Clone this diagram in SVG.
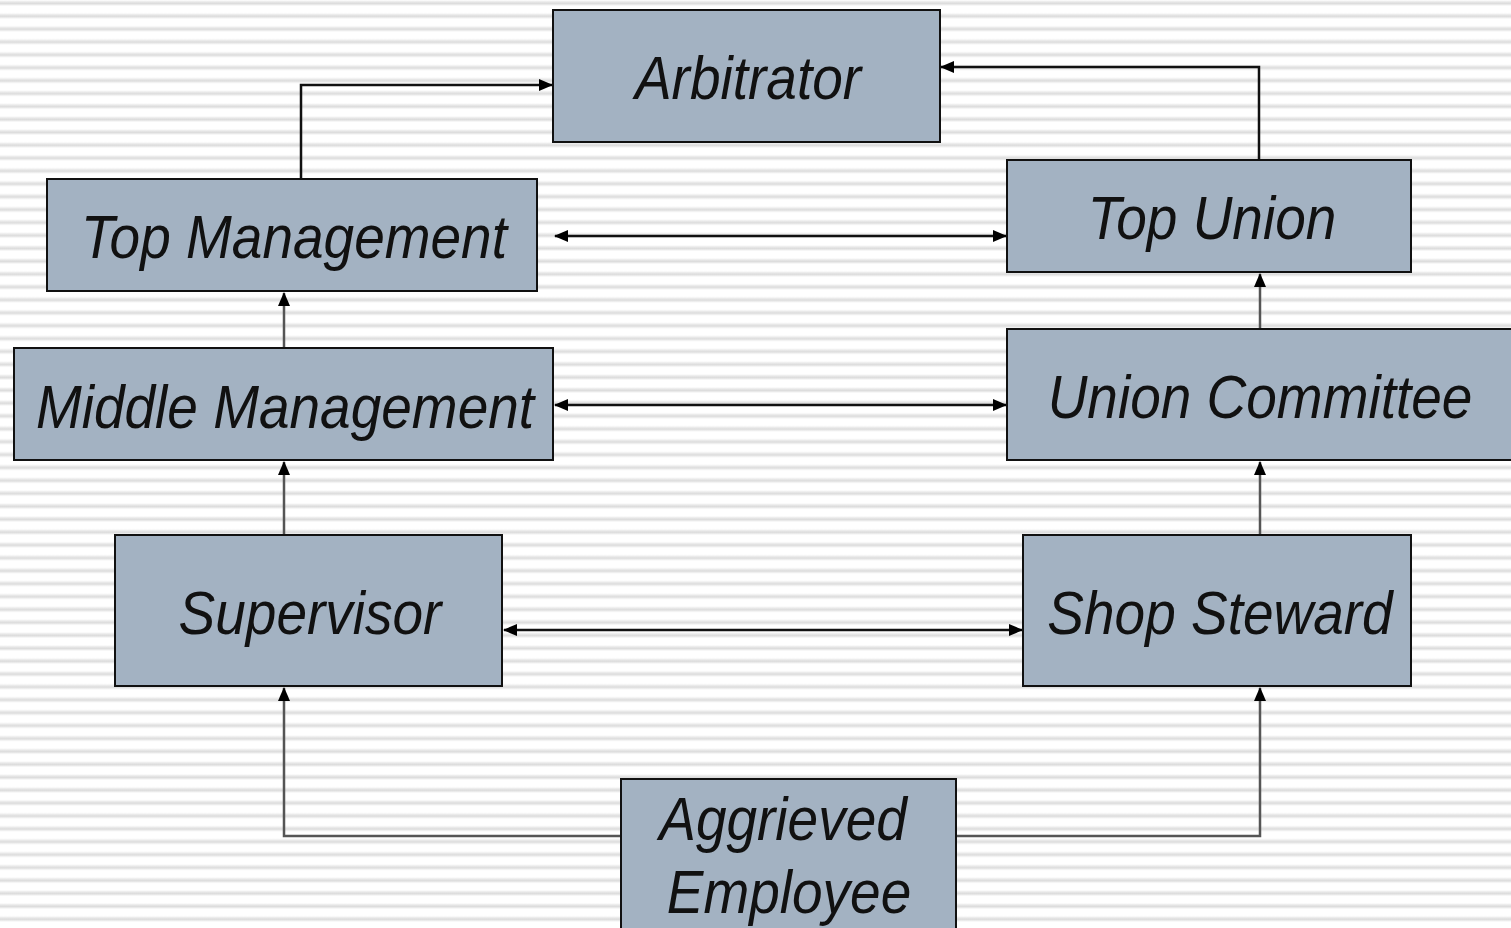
<svg xmlns="http://www.w3.org/2000/svg" width="1511" height="928" viewBox="0 0 1511 928">
<defs>
<linearGradient id="sg" x1="0" y1="0" x2="0" y2="1">
<stop offset="0" stop-color="#ffffff"/>
<stop offset="0.35" stop-color="#e6e6e6"/>
<stop offset="0.6" stop-color="#dcdcdc"/>
<stop offset="1" stop-color="#ffffff"/>
</linearGradient>
<pattern id="stripes" x="0" y="0" width="20" height="12.9" patternUnits="userSpaceOnUse">
<rect width="20" height="12.9" fill="#ffffff"/>
<rect y="0" width="20" height="6" fill="url(#sg)"/>
</pattern>
<marker id="ah" viewBox="0 0 14 12" refX="13" refY="6" markerWidth="14" markerHeight="12" markerUnits="userSpaceOnUse" orient="auto-start-reverse">
<path d="M0,0 L14,6 L0,12 Z" fill="#000"/>
</marker>
</defs>
<style>
.box{fill:#a3b2c2;stroke:#111;stroke-width:2}
.lbl{font-family:"Liberation Sans",Arial,sans-serif;font-style:italic;font-size:55px;fill:#111;text-anchor:middle}
.h{fill:none;stroke:#111;stroke-width:2.5}
.v{fill:none;stroke:#555;stroke-width:2.5}
</style>
<rect width="1511" height="928" fill="url(#stripes)"/>
<g id="connectors">
<path class="h" d="M301,179 V85 H552" marker-end="url(#ah)"/>
<path class="h" d="M1259,160 V67 H941" marker-end="url(#ah)"/>
<path class="h" d="M555,236 H1006" marker-start="url(#ah)" marker-end="url(#ah)"/>
<path class="h" d="M555,405 H1006" marker-start="url(#ah)" marker-end="url(#ah)"/>
<path class="h" d="M504,630 H1022" marker-start="url(#ah)" marker-end="url(#ah)"/>
<path class="v" d="M284,348 V293" marker-end="url(#ah)"/>
<path class="v" d="M284,535 V462" marker-end="url(#ah)"/>
<path class="v" d="M1260,329 V274" marker-end="url(#ah)"/>
<path class="v" d="M1260,535 V462" marker-end="url(#ah)"/>
<path class="v" d="M621,836 H284 V688" marker-end="url(#ah)"/>
<path class="v" d="M956,836 H1260 V688" marker-end="url(#ah)"/>
</g>
<g id="arbitrator"><rect class="box" x="553" y="10" width="387" height="132"/><text class="lbl" transform="translate(748,99) scale(1,1.12)">Arbitrator</text></g>
<g id="top-management"><rect class="box" x="47" y="179" width="490" height="112"/><text class="lbl" transform="translate(294,258) scale(1,1.12)">Top Management</text></g>
<g id="top-union"><rect class="box" x="1007" y="160" width="404" height="112"/><text class="lbl" transform="translate(1212,239) scale(1,1.12)">Top Union</text></g>
<g id="middle-management"><rect class="box" x="14" y="348" width="539" height="112"/><text class="lbl" transform="translate(285,428) scale(1,1.12)">Middle Management</text></g>
<g id="union-committee"><rect class="box" x="1007" y="329" width="510" height="131"/><text class="lbl" transform="translate(1260,418) scale(1,1.12)">Union Committee</text></g>
<g id="supervisor"><rect class="box" x="115" y="535" width="387" height="151"/><text class="lbl" transform="translate(310,634) scale(1,1.12)">Supervisor</text></g>
<g id="shop-steward"><rect class="box" x="1023" y="535" width="388" height="151"/><text class="lbl" transform="translate(1220,634) scale(1,1.12)">Shop Steward</text></g>
<g id="aggrieved-employee"><rect class="box" x="621" y="779" width="335" height="160"/><text class="lbl" transform="translate(783,840) scale(1,1.12)">Aggrieved</text><text class="lbl" transform="translate(789,913) scale(1,1.12)">Employee</text></g>
</svg>
